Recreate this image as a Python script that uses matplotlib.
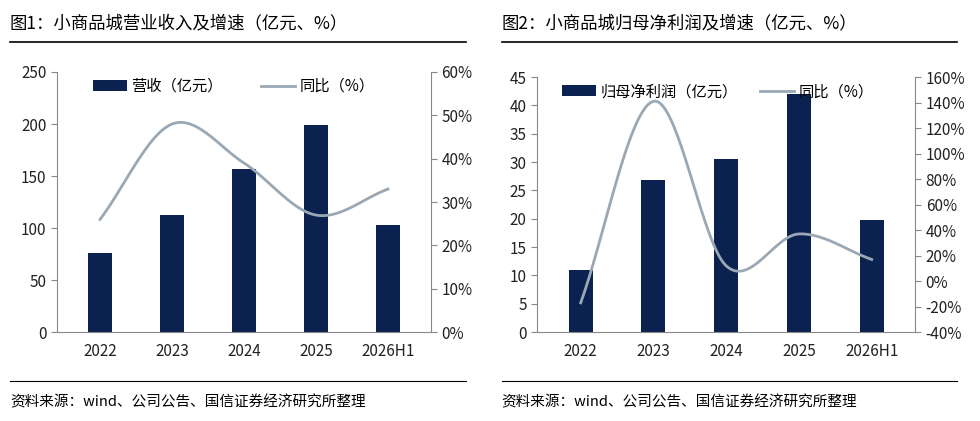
import numpy as np
import matplotlib
matplotlib.use("Agg")
import matplotlib.pyplot as plt

plt.rcParams["font.family"] = ["Noto Sans CJK SC", "DejaVu Sans"]

years = ["2022", "2023", "2024", "2025", "2026H1"]
revenue = [76, 113, 157, 199, 103]
revenue_yoy = [26, 48, 39, 27, 33]
profit = [11, 26.8, 30.6, 42, 19.8]
profit_yoy = [-17, 141, 12, 37, 17]

NAVY = "#0b2150"
GREY = "#9aa8b4"
AX = "#888888"


def smooth(x, y, n=30):
    # Catmull-Rom curve through the points, for the smoothed line look
    x, y = np.asarray(x, float), np.asarray(y, float)
    px = np.concatenate([[2 * x[0] - x[1]], x, [2 * x[-1] - x[-2]]])
    py = np.concatenate([[2 * y[0] - y[1]], y, [2 * y[-1] - y[-2]]])
    xs, ys = [], []
    for i in range(1, len(px) - 2):
        t = np.linspace(0, 1, n)
        for p, out in ((px, xs), (py, ys)):
            p0, p1, p2, p3 = p[i - 1:i + 3]
            out.extend(0.5 * (2 * p1 + (-p0 + p2) * t + (2 * p0 - 5 * p1 + 4 * p2 - p3) * t ** 2
                              + (-p0 + 3 * p1 - 3 * p2 + p3) * t ** 3))
    return xs, ys


def panel(rect, bars, yoy, ylim, yticks, rlim, rticks, bar_label, title, title_x, leg_x, colsp):
    ax = fig.add_axes(rect)
    x = np.arange(len(years))
    ax.bar(x, bars, width=0.33, color=NAVY, label=bar_label, zorder=2)
    ax.set_ylim(*ylim)
    ax.set_yticks(yticks)
    ax.set_xlim(-0.6, len(years) - 0.4)
    ax.set_xticks(x, years)
    ax2 = ax.twinx()
    sx, sy = smooth(x, yoy)
    ax2.plot(sx, sy, color=GREY, lw=2, label="同比（%）")
    ax2.set_ylim(*rlim)
    ax2.set_yticks(rticks, [f"{v}%" for v in rticks])
    for a in (ax, ax2):
        for s in a.spines.values():
            s.set_visible(False)
        a.tick_params(labelsize=11, colors="#222222", length=4)
        a.tick_params(axis="y", color=AX)
    ax.spines["left"].set_visible(True)
    ax.spines["left"].set_color(AX)
    ax2.spines["right"].set_visible(True)
    ax2.spines["right"].set_color(AX)
    ax.spines["bottom"].set_visible(True)
    ax.spines["bottom"].set_color(AX)
    ax.tick_params(axis="x", length=0, pad=8)
    h1, l1 = ax.get_legend_handles_labels()
    h2, l2 = ax2.get_legend_handles_labels()
    ax.legend(h1 + h2, l1 + l2, loc="upper left", bbox_to_anchor=(leg_x, 1.03), ncol=2,
              frameon=False, fontsize=11, handlelength=2.2, handletextpad=0.3,
              columnspacing=colsp)
    fig.text(title_x, 0.945, title, fontsize=12.5, va="center")
    fig.add_artist(plt.Line2D([title_x, title_x + 0.465], [0.90, 0.90], color="black", lw=1.2))
    fig.add_artist(plt.Line2D([title_x, title_x + 0.465], [0.095, 0.095], color="black", lw=0.8))
    fig.text(title_x, 0.045, "资料来源：wind、公司公告、国信证券经济研究所整理", fontsize=10.5, va="center")


fig = plt.figure(figsize=(9.8, 4.21), dpi=100)
panel([0.058, 0.211, 0.382, 0.618], revenue, revenue_yoy, (0, 250), range(0, 251, 50),
      (0, 60), list(range(0, 61, 10)), "营收（亿元）", "图1：小商品城营业收入及增速（亿元、%）",
      0.01, 0.06, 2.5)
panel([0.548, 0.211, 0.386, 0.606], profit, profit_yoy, (0, 45), range(0, 46, 5),
      (-40, 160), list(range(-40, 161, 20)), "归母净利润（亿元）", "图2：小商品城归母净利润及增速（亿元、%）",
      0.512, 0.03, 1.5)
fig.savefig("out.png", dpi=100)
